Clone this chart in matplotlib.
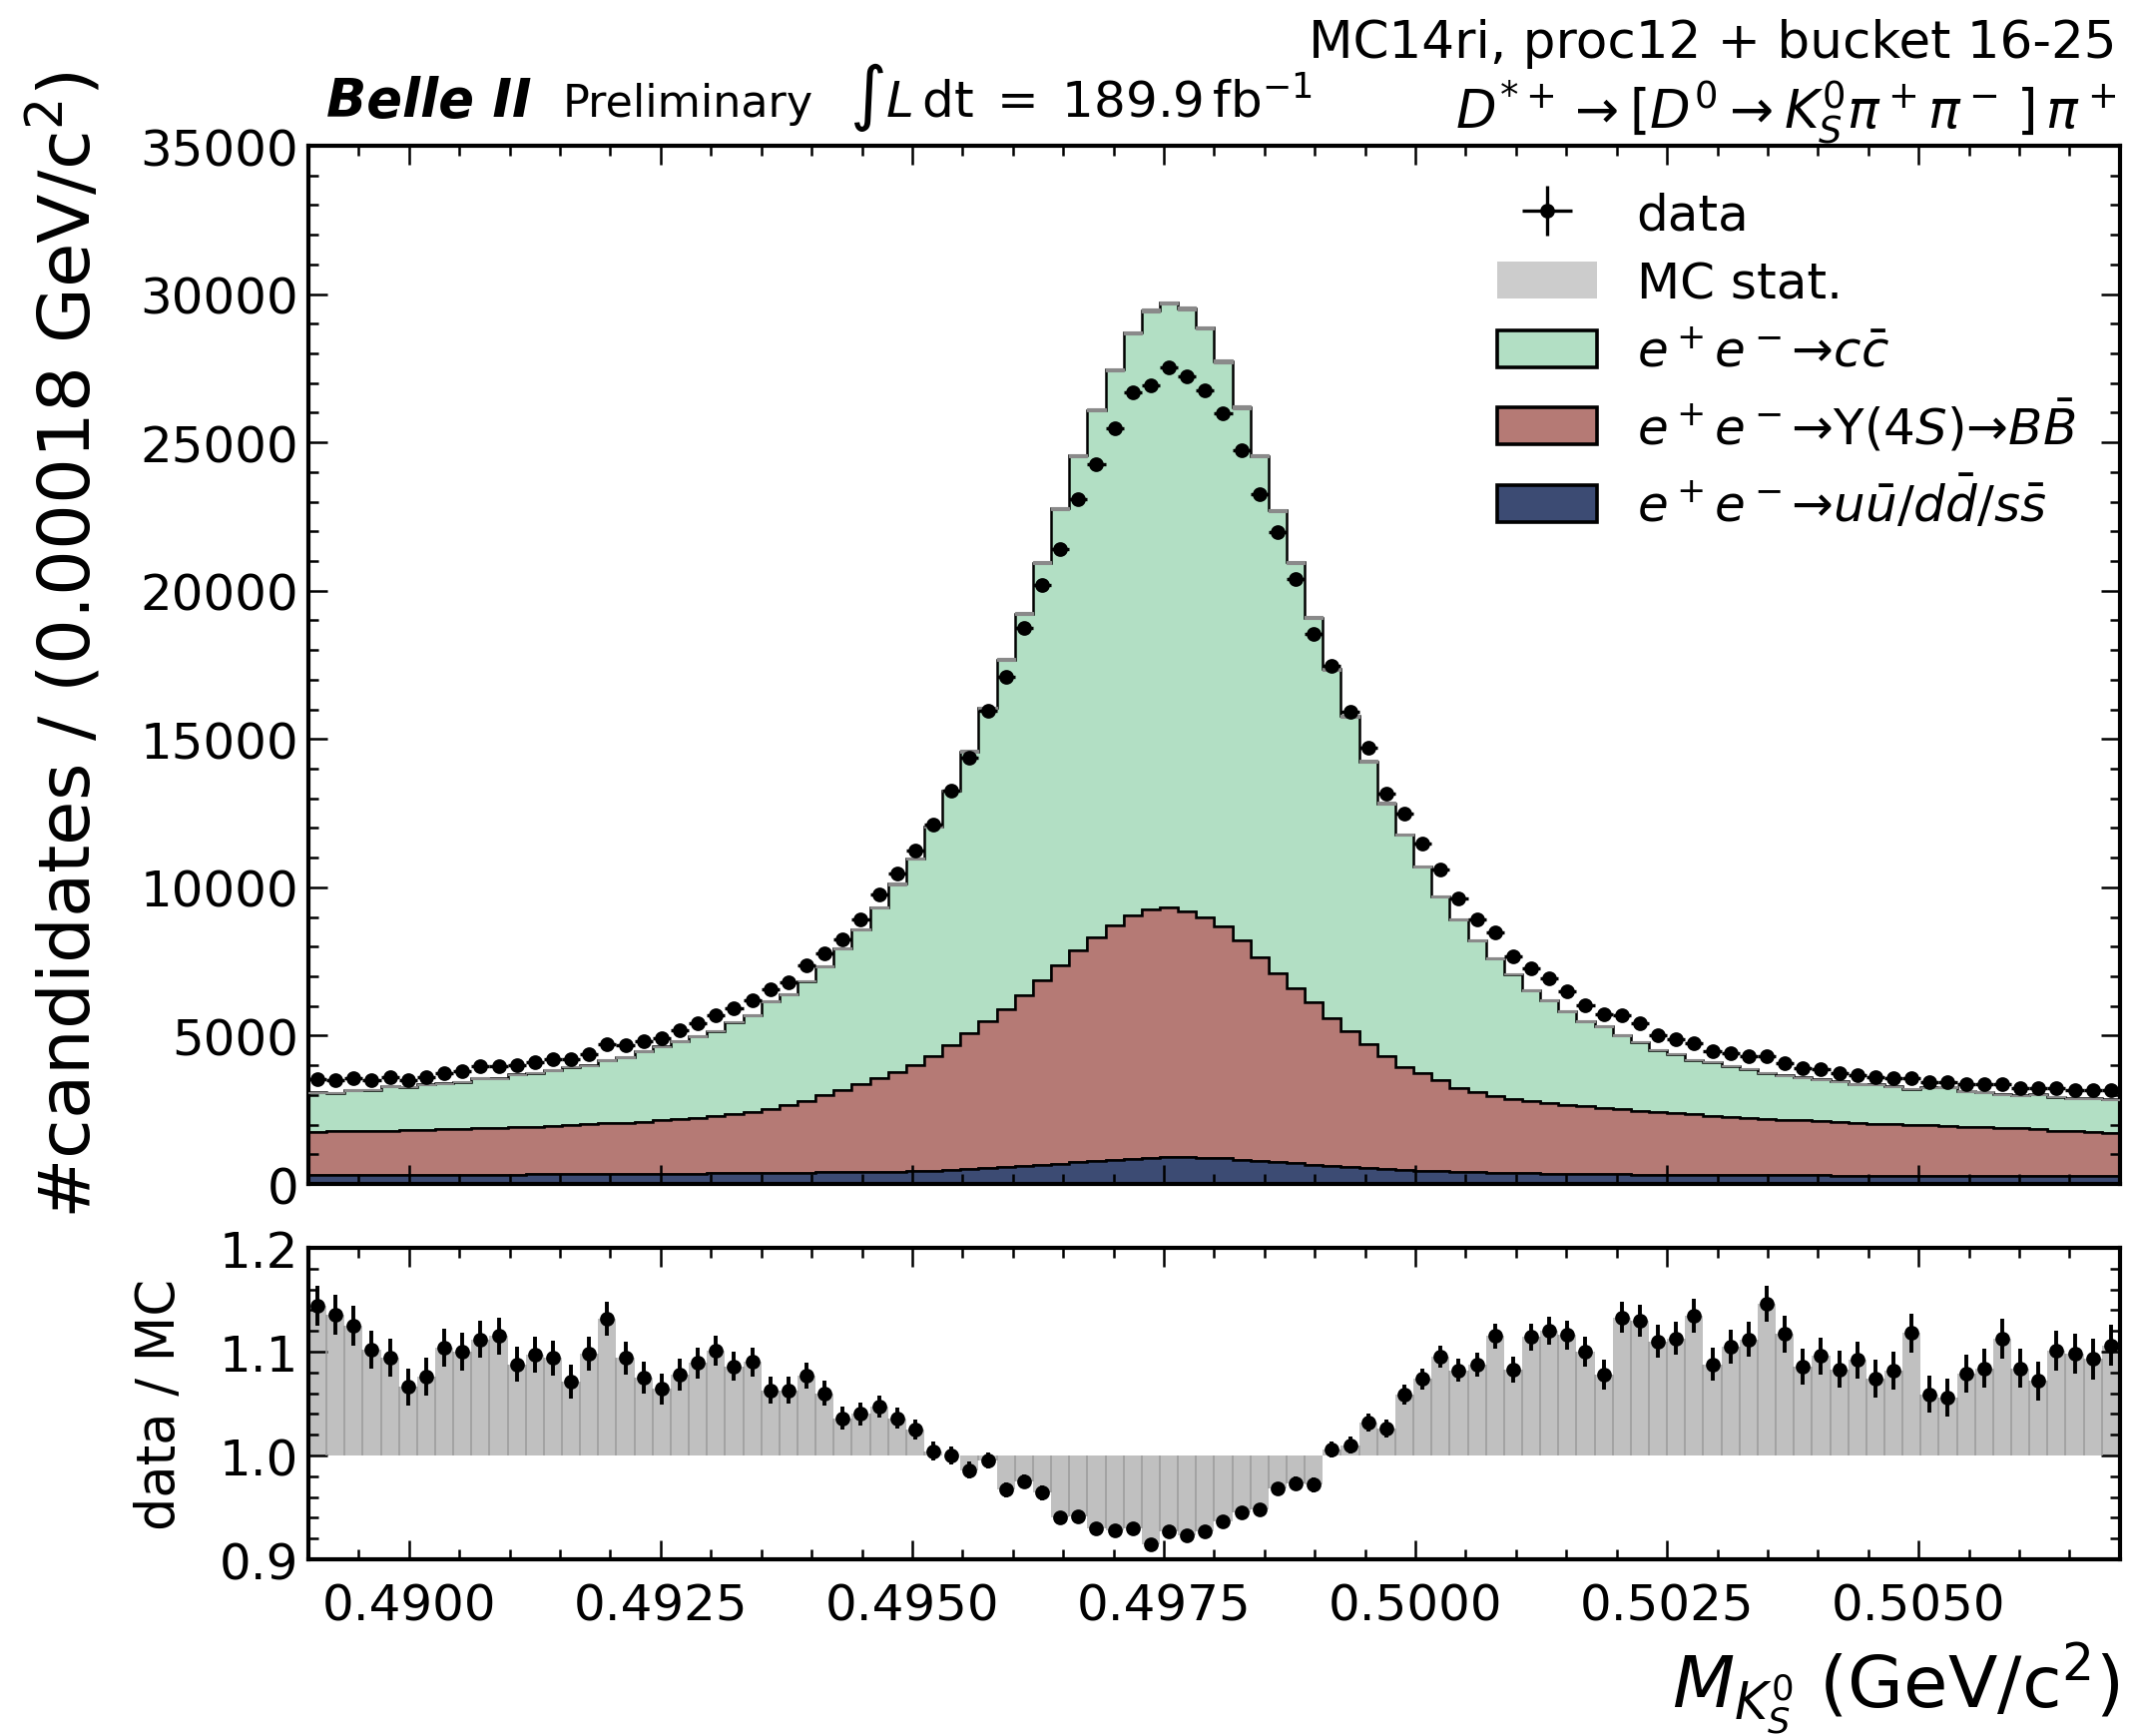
import numpy as np
import matplotlib
matplotlib.use("Agg")
import matplotlib.pyplot as plt
from matplotlib.patches import Patch
from matplotlib.ticker import MultipleLocator, FormatStrFormatter

# binning: 100 bins of 0.00018 GeV/c^2
edges = np.linspace(0.489, 0.507, 101)

data = [
    3539, 3493, 3562, 3493, 3607, 3493, 3607, 3744, 3790, 3972,
    3972, 4018, 4109, 4201, 4224, 4383, 4726, 4680, 4817, 4931,
    5182, 5433, 5685, 5936, 6210, 6552, 6803, 7374, 7785, 8241,
    8926, 9748, 10479, 11255, 12100, 13264, 14383, 15958, 17100, 18743,
    20182, 21415, 23104, 24268, 25478, 26688, 26916, 27533, 27236, 26757,
    25981, 24748, 23264, 21986, 20387, 18561, 17465, 15935, 14703, 13173,
    12488, 11484, 10616, 9634, 8926, 8470, 7671, 7283, 6940, 6507,
    6027, 5730, 5685, 5411, 5023, 4886, 4749, 4475, 4406, 4315,
    4292, 4087, 3904, 3858, 3744, 3676, 3607, 3562, 3584, 3447,
    3447, 3379, 3356, 3356, 3242, 3242, 3242, 3173, 3151, 3151,
]

ratio = [
    1.144, 1.136, 1.125, 1.102, 1.094, 1.066, 1.076, 1.104, 1.100, 1.112,
    1.115, 1.088, 1.097, 1.094, 1.071, 1.098, 1.132, 1.094, 1.075, 1.064,
    1.078, 1.089, 1.101, 1.086, 1.090, 1.063, 1.063, 1.077, 1.060, 1.036,
    1.040, 1.047, 1.036, 1.025, 1.004, 1.000, 0.986, 0.995, 0.967, 0.975,
    0.964, 0.940, 0.941, 0.930, 0.928, 0.930, 0.914, 0.927, 0.923, 0.927,
    0.937, 0.945, 0.948, 0.968, 0.973, 0.972, 1.006, 1.010, 1.032, 1.026,
    1.059, 1.074, 1.095, 1.082, 1.088, 1.115, 1.083, 1.114, 1.120, 1.116,
    1.100, 1.078, 1.133, 1.130, 1.110, 1.113, 1.135, 1.088, 1.105, 1.112,
    1.146, 1.117, 1.086, 1.096, 1.083, 1.092, 1.074, 1.082, 1.118, 1.059,
    1.056, 1.079, 1.084, 1.113, 1.084, 1.072, 1.101, 1.098, 1.093, 1.106,
]

bbbar = [
    1460, 1470, 1478, 1486, 1494, 1502, 1515, 1528, 1541, 1554,
    1572, 1590, 1607, 1629, 1651, 1678, 1705, 1732, 1758, 1794,
    1830, 1876, 1932, 1987, 2062, 2147, 2272, 2426, 2600, 2784,
    2967, 3150, 3352, 3568, 3852, 4220, 4578, 4977, 5340, 5750,
    6210, 6695, 7155, 7565, 7915, 8205, 8385, 8425, 8300, 8115,
    7840, 7375, 6865, 6350, 5905, 5460, 4990, 4570, 4185, 3800,
    3480, 3276, 3068, 2837, 2692, 2590, 2488, 2434, 2382, 2329,
    2275, 2231, 2186, 2146, 2105, 2069, 2033, 1996, 1964, 1932,
    1905, 1877, 1849, 1821, 1798, 1775, 1752, 1729, 1711, 1693,
    1675, 1657, 1638, 1619, 1600, 1581, 1532, 1503, 1479, 1455,
]

uds = [
    300, 300, 302, 304, 306, 308, 310, 312, 314, 316,
    318, 320, 323, 326, 329, 332, 335, 338, 342, 346,
    350, 354, 358, 363, 368, 373, 378, 384, 390, 396,
    403, 410, 418, 427, 440, 460, 490, 525, 560, 600,
    640, 685, 725, 765, 805, 845, 875, 895, 900, 885,
    860, 825, 785, 740, 695, 650, 610, 570, 535, 500,
    470, 445, 425, 405, 390, 378, 366, 356, 348, 341,
    335, 329, 324, 319, 315, 311, 307, 304, 301, 298,
    295, 293, 291, 289, 287, 285, 283, 281, 279, 277,
    275, 273, 272, 271, 270, 269, 268, 267, 266, 265,
]

data = np.array(data, dtype=float)
ratio = np.array(ratio)
bbbar = np.array(bbbar, dtype=float)
uds = np.array(uds, dtype=float)

centers = 0.5 * (edges[1:] + edges[:-1])
width = edges[1] - edges[0]

# total MC follows from data and data/MC; ccbar fills the rest of the stack
mc_total = data / ratio
ccbar = mc_total - bbbar - uds
mc_err = np.sqrt(mc_total * 0.12)

c_cc = "#b2dfc4"
c_bb = "#b57a75"
c_uds = "#3c4b73"

fig = plt.figure(figsize=(10.675, 8.7), dpi=200)
ax = fig.add_axes([0.1447, 0.3178, 0.8501, 0.5977])
rax = fig.add_axes([0.1447, 0.1017, 0.8501, 0.1793], sharex=ax)

ax.hist([centers] * 3, bins=edges, weights=[uds, bbbar, ccbar], stacked=True,
        histtype="stepfilled", color=[c_uds, c_bb, c_cc],
        edgecolor="black", linewidth=0.9)
ax.bar(centers, 2 * mc_err, bottom=mc_total - mc_err, width=width,
       color="#8a8a8a", edgecolor="#8a8a8a", linewidth=0.4, zorder=3)
eb = ax.errorbar(centers, data, xerr=width / 2, yerr=np.sqrt(data), fmt="o",
                 color="black", markersize=4.3, elinewidth=1.2, capsize=0, zorder=4)

# ratio panel
rax.bar(centers, ratio - 1, bottom=1, width=width, color="#c0c0c0", linewidth=0)
left, right = ratio[:-1], ratio[1:]
seam_top = np.where((left > 1) & (right > 1), np.minimum(left, right),
                    np.where((left < 1) & (right < 1), np.maximum(left, right), 1.0))
rax.vlines(edges[1:-1], 1.0, seam_top, color="#9e9e9e", linewidth=0.6)
rax.errorbar(centers, ratio, yerr=np.sqrt(data) / mc_total, fmt="o", color="black",
             markersize=4.3, elinewidth=1.4, capsize=0, zorder=4)

ax.set_xlim(edges[0], edges[-1])
ax.set_ylim(0, 35000)
rax.set_ylim(0.9, 1.2)

ax.yaxis.set_major_locator(MultipleLocator(5000))
ax.yaxis.set_minor_locator(MultipleLocator(1000))
rax.yaxis.set_major_locator(MultipleLocator(0.1))
rax.yaxis.set_minor_locator(MultipleLocator(0.02))
rax.yaxis.set_major_formatter(FormatStrFormatter("%.1f"))
rax.xaxis.set_major_locator(MultipleLocator(0.0025))
rax.xaxis.set_minor_locator(MultipleLocator(0.0005))
rax.xaxis.set_major_formatter(FormatStrFormatter("%.4f"))

for a in (ax, rax):
    a.tick_params(which="both", direction="in", top=True, right=True,
                  labelsize=18, width=0.9)
    a.tick_params(which="major", length=7)
    a.tick_params(which="minor", length=3.6)
    for s in a.spines.values():
        s.set_linewidth(1.5)
ax.tick_params(labelbottom=False)
rax.tick_params(axis="x", pad=8)

ax.set_ylabel(r"#candidates / (0.00018 GeV/c$^2$)", fontsize=26)
ax.yaxis.set_label_coords(-0.112, 0.52)
rax.set_ylabel("data / MC", fontsize=19)
rax.yaxis.set_label_coords(-0.068, 0.5)
rax.set_xlabel(r"$M_{K_S^0}$ (GeV/c$^2$)", fontsize=26, loc="right")

handles = [
    eb,
    Patch(facecolor="#cccccc", edgecolor="none"),
    Patch(facecolor=c_cc, edgecolor="black", linewidth=1.3),
    Patch(facecolor=c_bb, edgecolor="black", linewidth=1.3),
    Patch(facecolor=c_uds, edgecolor="black", linewidth=1.3),
]
labels = [
    "data",
    "MC stat.",
    r"$e^+e^-$→$c\bar{c}$",
    r"$e^+e^-$→Υ(4$S$)→$B\bar{B}$",
    r"$e^+e^-$→$u\bar{u}/d\bar{d}/s\bar{s}$",
]
ax.legend(handles, labels, loc="upper right", frameon=False, fontsize=18,
          labelspacing=0.42, handlelength=2.0, handleheight=0.75)

# experiment / sample labels above the frame
ax.text(0.01, 1.029, "Belle II", transform=ax.transAxes, fontsize=19,
        fontweight="bold", fontstyle="italic", va="baseline")
ax.text(0.1405, 1.029, "Preliminary", transform=ax.transAxes, fontsize=16,
        va="baseline")
ax.text(0.2986, 1.029, r"$\int L\,\mathrm{dt}\;=\;189.9\,\mathrm{fb}^{-1}$",
        transform=ax.transAxes, fontsize=18, va="baseline")
ax.text(0.998, 1.0856, "MC14ri, proc12 + bucket 16-25", transform=ax.transAxes,
        fontsize=18.6, ha="right", va="baseline")
ax.text(0.998, 1.017, r"$D^{*+}\to[D^0\to K_S^0\pi^+\pi^-\,]\,\pi^+$",
        transform=ax.transAxes, fontsize=19, ha="right", va="baseline")

fig.savefig("out.png", dpi=200)
